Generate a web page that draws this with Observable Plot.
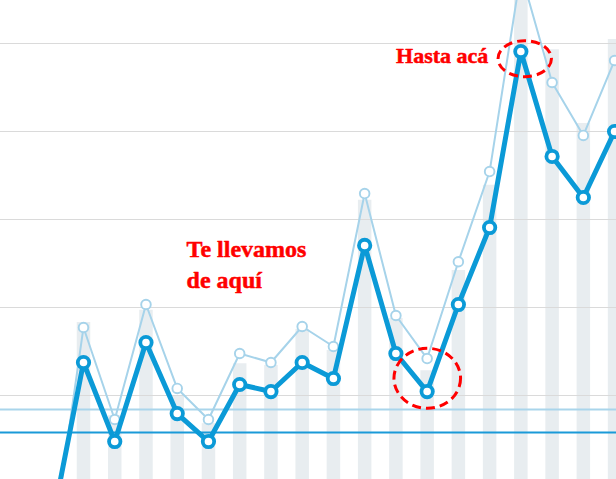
<!DOCTYPE html>
<html>
<head>
<meta charset="utf-8">
<script src="https://cdn.jsdelivr.net/npm/d3@7"></script>
<script src="https://cdn.jsdelivr.net/npm/@observablehq/plot@0.6"></script>
<style>
  html, body { margin: 0; padding: 0; background: #ffffff; overflow: hidden; }
  #chart svg { display: block; }
</style>
</head>
<body>
<div id="chart"></div>
<script>
// ---- data ----
const periods = d3.range(19);
const mainSeries = [-4.3, 13.75, 4.77, 16.02, 7.95, 4.77, 11.25, 10.45, 13.75, 11.93, 27.05, 14.77, 10.45, 20.34, 29.09, 49.09, 37.16, 32.5, 40.0];
const secondSeries = [-7.2, 17.73, 7.27, 20.34, 10.8, 7.27, 14.77, 13.75, 17.84, 15.57, 32.95, 19.09, 14.2, 25.2, 35.45, 58.07, 45.57, 39.55, 48.07];
const barValues = [null, 18.3, 7.7, 19.7, 10.0, 6.8, 13.6, 13.4, 17.5, 15.1, 32.2, 18.75, 12.8, 24.2, 33.9, 60, 49.3, 40.9, 50.45];
const gridTicks = [10, 20, 30, 40, 50];
const refSecond = [8.41];
const refMain = [5.8];
const noteLabels = ["Te llevamos\nde aquí", "Hasta acá"];
const noteX = [4.3, 13.96];
const noteY = [22.27, 47.78];
const highlightX = [15.14, 12.02];
const highlightY = [48.22, 11.9];

// ---- tables built from the arrays ----
const rows = periods.map((p, k) => ({p, main: mainSeries[k], second: secondSeries[k], bar: barValues[k]}));
const barRows = rows.filter(d => d.bar != null);

const dark = "#0b9ad7";
const light = "#a6d3ea";

const plot = Plot.plot({
  width: 616,
  height: 479,
  margin: 0,
  style: {background: "white", overflow: "hidden"},
  x: {domain: [0, 18], range: [51.76, 614.08], axis: null},
  y: {domain: [0, 50], range: [483, 43], axis: null},
  marks: [
    Plot.ruleX(barRows, {x: "p", y1: 0, y2: "bar", stroke: "#e8edf0", strokeWidth: 13.5, clip: true}),
    Plot.ruleY(gridTicks, {stroke: "#dadada", strokeWidth: 1}),
    Plot.ruleY(refSecond, {stroke: "#a9d5eb", strokeWidth: 2}),
    Plot.ruleY(refMain, {stroke: "#1a9ad8", strokeWidth: 2}),
    Plot.line(rows, {x: "p", y: "second", stroke: light, strokeWidth: 2, clip: true}),
    Plot.dot(rows, {x: "p", y: "second", r: 4.8, fill: "white", stroke: light, strokeWidth: 1.9, clip: true}),
    Plot.line(rows, {x: "p", y: "main", stroke: dark, strokeWidth: 5, clip: true}),
    Plot.dot(rows, {x: "p", y: "main", r: 5.7, fill: "white", stroke: dark, strokeWidth: 3.8, clip: true}),
    Plot.text([0], {x: () => noteX[0], y: () => noteY[0], text: () => noteLabels[0],
      textAnchor: "start", lineAnchor: "bottom", lineHeight: 1.29,
      fontFamily: "Liberation Serif", fontWeight: "bold", fontSize: 24, fill: "red",
      stroke: "red", strokeWidth: 0.5}),
    Plot.text([1], {x: () => noteX[1], y: () => noteY[1], text: () => noteLabels[1],
      textAnchor: "end", lineAnchor: "bottom",
      fontFamily: "Liberation Serif", fontWeight: "bold", fontSize: 22, fill: "red",
      stroke: "red", strokeWidth: 0.5})
  ]
});

// dashed highlight ellipses, positioned through Plot's scales
const sx = plot.scale("x"), sy = plot.scale("y");
const radii = [[26.7, 18], [33.3, 30]];
d3.select(plot).append("g")
  .attr("fill", "none").attr("stroke", "red").attr("stroke-width", 3).attr("stroke-dasharray", "9,5")
  .selectAll("ellipse").data(highlightX.map((x, k) => ({x, y: highlightY[k], k})))
  .join("ellipse")
  .attr("cx", d => sx.apply(d.x))
  .attr("cy", d => sy.apply(d.y))
  .attr("rx", d => radii[d.k][0])
  .attr("ry", d => radii[d.k][1]);

document.getElementById("chart").append(plot);
</script>
</body>
</html>
